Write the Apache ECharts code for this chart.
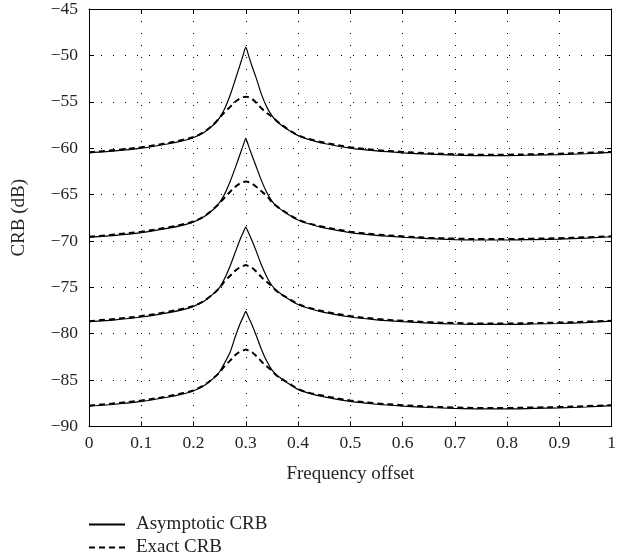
<!DOCTYPE html>
<html><head><meta charset="utf-8">
<script src="https://cdn.jsdelivr.net/npm/echarts/dist/echarts.min.js"></script>
<style>html,body{margin:0;padding:0;background:#fff}#c{width:619px;height:558px}</style>
</head><body><div id="c"></div>
<script>
// Frequency offset sample positions
const freq = [0, 0.05, 0.1, 0.15, 0.18, 0.2, 0.22, 0.24, 0.25, 0.26, 0.27, 0.28, 0.29, 0.295, 0.3, 0.305, 0.31, 0.32, 0.33, 0.34, 0.35, 0.36, 0.38, 0.4, 0.42, 0.45, 0.5, 0.55, 0.6, 0.65, 0.7, 0.75, 0.8, 0.85, 0.9, 0.95, 1.0];

// Asymptotic CRB (solid), four curves (dB)
const asym1 = [-60.5, -60.3, -60.0, -59.55, -59.2, -58.85, -58.3, -57.4, -56.7, -55.7, -54.3, -52.6, -50.85, -49.95, -49.1, -49.95, -50.85, -52.45, -54.2, -55.55, -56.5, -57.15, -58.0, -58.65, -59.05, -59.5, -60.0, -60.3, -60.5, -60.65, -60.75, -60.8, -60.8, -60.75, -60.7, -60.6, -60.45];
const asym2 = [-69.6, -69.4, -69.1, -68.65, -68.3, -67.95, -67.4, -66.5, -65.85, -64.9, -63.6, -62.1, -60.5, -59.7, -58.95, -59.7, -60.5, -62.0, -63.5, -64.75, -65.7, -66.3, -67.1, -67.75, -68.15, -68.6, -69.1, -69.4, -69.6, -69.75, -69.85, -69.9, -69.9, -69.85, -69.8, -69.7, -69.55];
const asym3 = [-78.7, -78.5, -78.2, -77.75, -77.4, -77.05, -76.5, -75.6, -75.0, -74.0, -72.7, -71.2, -69.7, -69.1, -68.5, -69.1, -69.7, -71.1, -72.6, -73.85, -74.8, -75.4, -76.2, -76.85, -77.25, -77.7, -78.2, -78.5, -78.7, -78.85, -78.95, -79.0, -79.0, -78.95, -78.9, -78.8, -78.65];
const asym4 = [-87.8, -87.6, -87.3, -86.85, -86.5, -86.15, -85.6, -84.7, -84.1, -83.1, -82.0, -80.3, -78.8, -78.2, -77.6, -78.2, -78.8, -80.2, -81.7, -82.95, -83.9, -84.5, -85.3, -86.0, -86.4, -86.8, -87.3, -87.6, -87.8, -87.95, -88.05, -88.1, -88.1, -88.05, -88.0, -87.9, -87.75];

// Exact CRB (dashed), four curves (dB)
const exact1 = [-60.45, -60.2, -59.9, -59.45, -59.1, -58.8, -58.25, -57.35, -56.7, -56.1, -55.55, -55.0, -54.6, -54.5, -54.45, -54.5, -54.6, -55.1, -55.7, -56.2, -56.6, -57.1, -57.95, -58.6, -59.0, -59.4, -59.9, -60.2, -60.4, -60.55, -60.65, -60.7, -60.7, -60.65, -60.6, -60.5, -60.4];
const exact2 = [-69.55, -69.3, -69.0, -68.55, -68.2, -67.9, -67.35, -66.45, -65.9, -65.3, -64.7, -64.15, -63.75, -63.65, -63.6, -63.65, -63.75, -64.15, -64.65, -65.15, -65.8, -66.3, -67.05, -67.7, -68.1, -68.5, -69.0, -69.3, -69.5, -69.65, -69.75, -69.8, -69.8, -69.75, -69.7, -69.6, -69.5];
const exact3 = [-78.65, -78.4, -78.1, -77.65, -77.3, -77.0, -76.45, -75.6, -75.05, -74.3, -73.75, -73.2, -72.8, -72.7, -72.6, -72.7, -72.8, -73.3, -73.9, -74.4, -74.9, -75.45, -76.15, -76.8, -77.2, -77.6, -78.1, -78.4, -78.6, -78.75, -78.85, -78.9, -78.9, -78.85, -78.8, -78.7, -78.6];
const exact4 = [-87.75, -87.5, -87.2, -86.75, -86.4, -86.1, -85.55, -84.7, -84.15, -83.45, -82.9, -82.3, -81.9, -81.8, -81.7, -81.8, -81.9, -82.4, -83.0, -83.5, -84.0, -84.55, -85.25, -85.95, -86.35, -86.7, -87.2, -87.5, -87.7, -87.85, -87.95, -88.0, -88.0, -87.95, -87.9, -87.8, -87.7];

const legendNames = ['Asymptotic CRB', 'Exact CRB'];

const FONT = '"Liberation Serif", "DejaVu Serif", serif';
const TXT = '#231f20';
const pairs = ys => freq.map((f, i) => [f, ys[i]]);

const solid = [asym1, asym2, asym3, asym4].map(ys => ({
  name: legendNames[0], type: 'line', data: pairs(ys), symbol: 'none', smooth: 0.2,
  lineStyle: { color: '#000', width: 1.2, type: 'solid' }, itemStyle: { color: '#000' }, z: 3
}));
const dashed = [exact1, exact2, exact3, exact4].map(ys => ({
  name: legendNames[1], type: 'line', data: pairs(ys), symbol: 'none', smooth: 0.35,
  lineStyle: { color: '#000', width: 2, type: [6, 4] }, itemStyle: { color: '#000' }, z: 4
}));

const legendBase = {
  orient: 'vertical', left: 88, padding: 0,
  itemWidth: 36, itemHeight: 14, itemGap: 0,
  itemStyle: { opacity: 0, borderWidth: 0 },
  textStyle: { fontFamily: FONT, fontSize: 19, color: TXT, padding: [0, 0, 0, 6] }
};

const chart = echarts.init(document.getElementById('c'), null, { renderer: 'canvas' });
const tickInside = { show: true, inside: true, length: 5, lineStyle: { color: '#000', width: 1 } };
chart.setOption({
  animation: false,
  backgroundColor: '#fff',
  grid: { left: 89, right: 1.5, top: 9, bottom: 131.5, containLabel: false },
  legend: [
    Object.assign({}, legendBase, { data: [legendNames[0]], top: 515 }),
    Object.assign({}, legendBase, { data: [legendNames[1]], top: 538 })
  ],
  xAxis: [{
    type: 'value', min: 0, max: 1, interval: 0.1, position: 'bottom',
    name: 'Frequency offset', nameLocation: 'middle', nameGap: 38,
    nameTextStyle: { fontFamily: FONT, fontSize: 19, color: TXT },
    axisLine: { show: true, lineStyle: { color: '#000', width: 1 } },
    axisTick: tickInside,
    axisLabel: { fontFamily: FONT, fontSize: 17.5, color: TXT, margin: 8,
      formatter: v => String(+(+v).toFixed(1)) },
    splitLine: { show: true, lineStyle: { color: '#000', width: 1, type: [1, 11] } }
  }, {
    type: 'value', min: 0, max: 1, interval: 0.1, position: 'top',
    axisLine: { show: true, onZero: false, lineStyle: { color: '#000', width: 1 } },
    axisTick: tickInside, axisLabel: { show: false }, splitLine: { show: false }
  }],
  yAxis: [{
    type: 'value', min: -90, max: -45, interval: 5, position: 'left',
    name: 'CRB (dB)', nameLocation: 'middle', nameGap: 60, nameRotate: 90,
    nameTextStyle: { fontFamily: FONT, fontSize: 19, color: TXT },
    axisLine: { show: true, onZero: false, lineStyle: { color: '#000', width: 1 } },
    axisTick: tickInside,
    axisLabel: { fontFamily: FONT, fontSize: 17.5, color: TXT, margin: 11,
      formatter: v => String(v).replace('-', '\u2212') },
    splitLine: { show: true, lineStyle: { color: '#000', width: 1, type: [1, 11] } }
  }, {
    type: 'value', min: -90, max: -45, interval: 5, position: 'right',
    axisLine: { show: true, onZero: false, lineStyle: { color: '#000', width: 1 } },
    axisTick: tickInside, axisLabel: { show: false }, splitLine: { show: false }
  }],
  series: solid.concat(dashed)
});
</script>
</body></html>
